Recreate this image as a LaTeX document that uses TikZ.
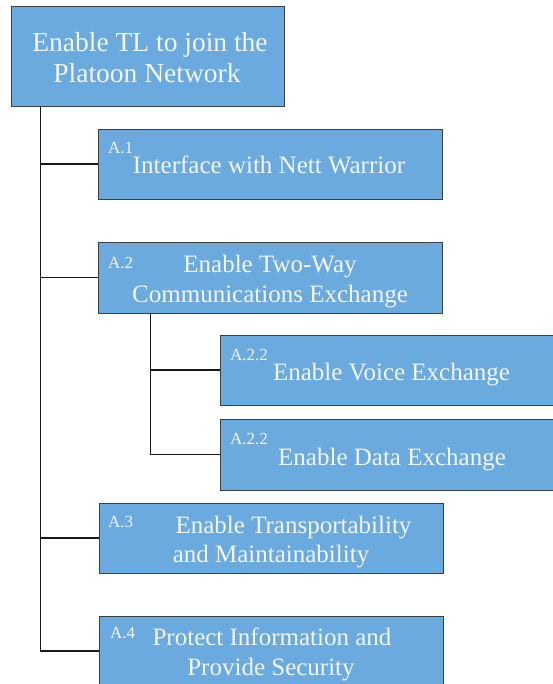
\documentclass[tikz,border=0pt]{standalone}
\usepackage{fontspec}
\setmainfont{Liberation Serif}
\definecolor{boxfill}{HTML}{6AAADE}
\definecolor{boxline}{HTML}{3F3F3F}
\definecolor{boxtext}{HTML}{F4F6F8}
\begin{document}
\begin{tikzpicture}[x=1pt, y=-1pt,
  box/.style={draw=boxline, line width=0.9pt, fill=boxfill, rectangle, inner sep=0pt},
  conn/.style={draw=black!90, line width=1.8pt},
  maintxt/.style={anchor=base, inner sep=0pt, text=boxtext, font=\fontsize{25}{30}\selectfont},
  roottxt/.style={anchor=base, inner sep=0pt, text=boxtext, font=\fontsize{27.5}{31}\selectfont},
  idtxt/.style={anchor=base west, inner sep=0pt, text=boxtext, font=\fontsize{17}{20}\selectfont}]
\useasboundingbox (0,0) rectangle (553,684);
\clip (0,0) rectangle (553,684);

% boxes (centre, size)
\node[box, minimum width=273pt, minimum height=100pt] (root) at (147.5,56) {};
\node[box, minimum width=344pt, minimum height=70pt] (a1) at (270,164) {};
\node[box, minimum width=344pt, minimum height=71pt] (a2) at (270,277.5) {};
\node[box, minimum width=343pt, minimum height=70pt] (voice) at (391.5,370) {};
\node[box, minimum width=343pt, minimum height=71pt] (data) at (391.5,454.5) {};
\node[box, minimum width=344pt, minimum height=70pt] (a3) at (271,538) {};
\node[box, minimum width=344pt, minimum height=70pt] (a4) at (271,651) {};

% connectors
\draw[conn] ([xshift=30pt]root.south west) |- (a1.west);
\draw[conn] ([xshift=30pt]root.south west) |- (a2.west);
\draw[conn] ([xshift=30pt]root.south west) |- (a3.west);
\draw[conn] ([xshift=30pt]root.south west) |- (a4.west);
\draw[conn] ([xshift=53pt]a2.south west) |- (voice.west);
\draw[conn] ([xshift=53pt]a2.south west) |- (data.west);

% texts
\node[roottxt] (r1) at (150,52) {Enable TL to join the};
\node[roottxt] (r2) at (147,83) {Platoon Network};

\node[idtxt] (a1id) at (108,154) {A.1};
\node[maintxt] (a1t) at (269,174) {Interface with Nett Warrior};

\node[idtxt] (a2id) at (108,268) {A.2};
\node[maintxt] (a2t1) at (270,272) {Enable Two-Way};
\node[maintxt] (a2t2) at (270,302) {Communications Exchange};

\node[idtxt] (vid) at (230,360) {A.2.2};
\node[maintxt] (vt) at (391.5,380) {Enable Voice Exchange};

\node[idtxt] (did) at (230,444) {A.2.2};
\node[maintxt] (dt) at (392,465) {Enable Data Exchange};

\node[idtxt] (a3id) at (108,527) {A.3};
\node[maintxt] (a3t1) at (293.5,533) {Enable Transportability};
\node[maintxt] (a3t2) at (271,562) {and Maintainability};

\node[idtxt] (a4id) at (110,638) {A.4};
\node[maintxt] (a4t1) at (272,645) {Protect Information and};
\node[maintxt] (a4t2) at (271,675) {Provide Security};
\end{tikzpicture}
\end{document}
